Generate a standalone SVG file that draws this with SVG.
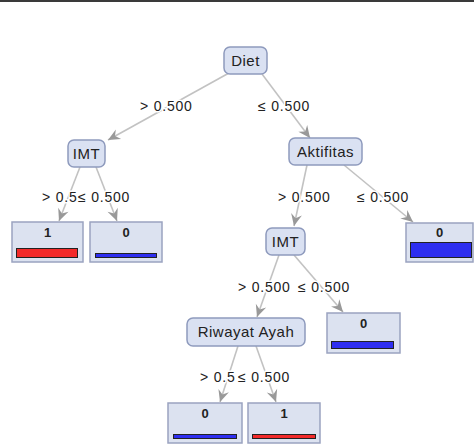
<svg xmlns="http://www.w3.org/2000/svg" width="474" height="446" viewBox="0 0 474 446">
<defs>
<marker id="arr" viewBox="0 0 14 14" refX="13" refY="7" markerWidth="14" markerHeight="14" markerUnits="userSpaceOnUse" orient="auto">
<path d="M1,1.5 L13,7 L1,12.5 L5,7 Z" fill="#999"/>
</marker>
<style>
.node rect.b{fill:#dae1f2;stroke:#8e9abd;stroke-width:1.5}
.leaf rect.b{fill:#dce2f0;stroke:#9aa3c0;stroke-width:1.5}
.t{font-family:"Liberation Sans",Arial,sans-serif;font-size:15px;letter-spacing:0.5px;fill:#222;text-anchor:middle}
.n{font-family:"Liberation Sans",Arial,sans-serif;font-size:13px;font-weight:bold;fill:#222;text-anchor:middle}
.lbl{font-family:"Liberation Sans",Arial,sans-serif;font-size:14px;letter-spacing:0.8px;fill:#222;stroke:#fff;stroke-width:3;paint-order:stroke;stroke-linejoin:round}
.e{stroke:#c2c2c2;stroke-width:1.6;fill:none;marker-end:url(#arr)}
.red{fill:#f22a2a;stroke:#222;stroke-width:1}
.blue{fill:#2e2ef0;stroke:#222;stroke-width:1}
</style>
</defs>
<rect x="0" y="0" width="474" height="2" fill="#3a3a3a"/>
<g id="connectors">
<line class="e" x1="229" y1="73" x2="108" y2="140"/>
<line class="e" x1="262" y1="74" x2="310" y2="138"/>
<line class="e" x1="80" y1="167" x2="59" y2="221"/>
<line class="e" x1="96" y1="167" x2="117" y2="221"/>
<line class="e" x1="307" y1="165" x2="294" y2="226"/>
<line class="e" x1="344" y1="165" x2="413" y2="222"/>
<line class="e" x1="279" y1="255" x2="257" y2="317"/>
<line class="e" x1="294" y1="255" x2="343" y2="312"/>
<line class="e" x1="238" y1="346" x2="220" y2="402"/>
<line class="e" x1="256" y1="346" x2="276" y2="402"/>
</g>
<g id="edge-labels">
<text class="lbl" x="140" y="111">&gt; 0.500</text>
<text class="lbl" x="258" y="111">≤ 0.500</text>
<text class="lbl" x="42" y="202">&gt; 0.5</text>
<text class="lbl" x="78" y="202">≤ 0.500</text>
<text class="lbl" x="278" y="202">&gt; 0.500</text>
<text class="lbl" x="357" y="202">≤ 0.500</text>
<text class="lbl" x="238" y="292">&gt; 0.500</text>
<text class="lbl" x="298" y="292">≤ 0.500</text>
<text class="lbl" x="200" y="382">&gt; 0.5</text>
<text class="lbl" x="238" y="382">≤ 0.500</text>
</g>
<g id="diet" class="node"><rect class="b" x="224" y="47" width="43" height="27" rx="6"/><text class="t" x="245.5" y="66">Diet</text></g>
<g id="imt1" class="node"><rect class="b" x="68" y="140" width="37" height="27" rx="6"/><text class="t" x="86.5" y="159">IMT</text></g>
<g id="aktifitas" class="node"><rect class="b" x="289" y="138" width="73" height="27" rx="6"/><text class="t" x="325.5" y="157">Aktifitas</text></g>
<g id="imt2" class="node"><rect class="b" x="266" y="228" width="39" height="27" rx="6"/><text class="t" x="285.5" y="247">IMT</text></g>
<g id="riwayat" class="node"><rect class="b" x="187" y="318" width="118" height="28" rx="6"/><text class="t" x="246" y="337">Riwayat Ayah</text></g>
<g id="leaf1" class="leaf"><rect class="b" x="12" y="222" width="71" height="40"/><text class="n" x="47.5" y="237">1</text><rect class="red" x="16.5" y="248.5" width="61" height="9"/></g>
<g id="leaf2" class="leaf"><rect class="b" x="90" y="222" width="72" height="40"/><text class="n" x="126" y="237">0</text><rect class="blue" x="95.5" y="253.5" width="61" height="4"/></g>
<g id="leaf3" class="leaf"><rect class="b" x="406" y="223" width="67" height="39"/><text class="n" x="439.5" y="237">0</text><rect class="blue" x="410.5" y="242.5" width="61" height="15"/></g>
<g id="leaf4" class="leaf"><rect class="b" x="327" y="313" width="73" height="40"/><text class="n" x="363.5" y="328">0</text><rect class="blue" x="331.5" y="341.5" width="62" height="7"/></g>
<g id="leaf5" class="leaf"><rect class="b" x="168" y="403" width="74" height="40"/><text class="n" x="205" y="418">0</text><rect class="blue" x="173.5" y="434.5" width="63" height="4"/></g>
<g id="leaf6" class="leaf"><rect class="b" x="248" y="403" width="72" height="40"/><text class="n" x="284" y="418">1</text><rect class="red" x="252.5" y="434.5" width="63" height="4"/></g>
</svg>
